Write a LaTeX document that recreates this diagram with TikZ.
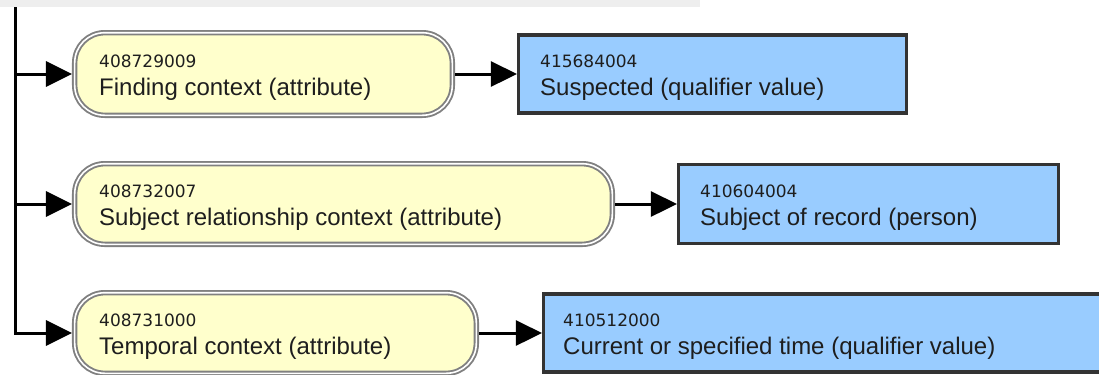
\documentclass[tikz,border=0pt]{standalone}
\usepackage{fontspec}
\setmainfont{Liberation Sans}
\newfontfamily\codefont{DejaVu Sans}
\usetikzlibrary{arrows.meta}
\definecolor{bandgray}{HTML}{EEEEEE}
\definecolor{attrfill}{HTML}{FFFFCC}
\definecolor{attrline}{HTML}{808080}
\definecolor{valfill}{HTML}{99CCFF}
\definecolor{valline}{HTML}{333333}
\definecolor{txt}{HTML}{1E1E1E}
\begin{document}
\begin{tikzpicture}[x=1bp,y=-1bp,
 attrbox/.style={draw=attrline, line width=1.9bp, double=white, double distance=1.6bp, fill=attrfill, rounded corners=30bp, inner sep=0pt, outer sep=2.7bp},
 valbox/.style={draw=valline, line width=3.2bp, fill=valfill, inner sep=0pt, outer sep=1.6bp},
 codetxt/.style={anchor=base west, inner sep=0pt, text=txt, font=\codefont\fontsize{17bp}{20bp}\selectfont},
 nametxt/.style={anchor=base west, inner sep=0pt, text=txt, font=\fontsize{24bp}{28bp}\selectfont},
 conn/.style={line width=3bp, draw=black, -{Triangle[length=26bp,width=25bp]}, line join=miter}
]
\clip (0,0) rectangle (1099,374);
\fill[white] (0,0) rectangle (1099,374);
\fill[bandgray] (0,0) rectangle (700,7);

% attribute boxes
\node[attrbox, minimum width=377.6bp, minimum height=82.6bp] (y1) at (263.5,74) {};
\node[attrbox, minimum width=537.6bp, minimum height=80.6bp] (y2) at (343.5,204) {};
\node[attrbox, minimum width=401.6bp, minimum height=80.6bp] (y3) at (275.5,333) {};

% value boxes
\node[valbox, minimum width=388bp, minimum height=78bp] (b1) at (712.5,74) {};
\node[valbox, minimum width=380bp, minimum height=79bp] (b2) at (868.5,204) {};
\node[valbox, minimum width=567bp, minimum height=78bp] (b3) at (827,333) {};

% texts
\node[codetxt] (y1c) at (99,67) {408729009};
\node[nametxt] (y1n) at (99,95) {Finding context (attribute)};
\node[codetxt] (y2c) at (99,197) {408732007};
\node[nametxt] (y2n) at (99,225) {Subject relationship context (attribute)};
\node[codetxt] (y3c) at (99,326) {408731000};
\node[nametxt] (y3n) at (99,354) {Temporal context (attribute)};

\node[codetxt] (b1c) at (540,67) {415684004};
\node[nametxt] (b1n) at (540,95) {Suspected (qualifier value)};
\node[codetxt] (b2c) at (700,197) {410604004};
\node[nametxt] (b2n) at (700,225) {Subject of record (person)};
\node[codetxt] (b3c) at (563,326) {410512000};
\node[nametxt] (b3n) at (563,354) {Current or specified time (qualifier value)};

% trunk and branches
\coordinate (top) at (15,7);
\coordinate (corner) at (15,333);
\draw[conn] (top) -- (corner) -- (y3.west);
\draw[conn] (y1.west -| top) -- (y1.west);
\draw[conn] (y2.west -| top) -- (y2.west);

% attribute to value
\draw[conn] (y1.east) -- (b1.west);
\draw[conn] (y2.east) -- (b2.west);
\draw[conn] (y3.east) -- (b3.west);
\end{tikzpicture}
\end{document}
